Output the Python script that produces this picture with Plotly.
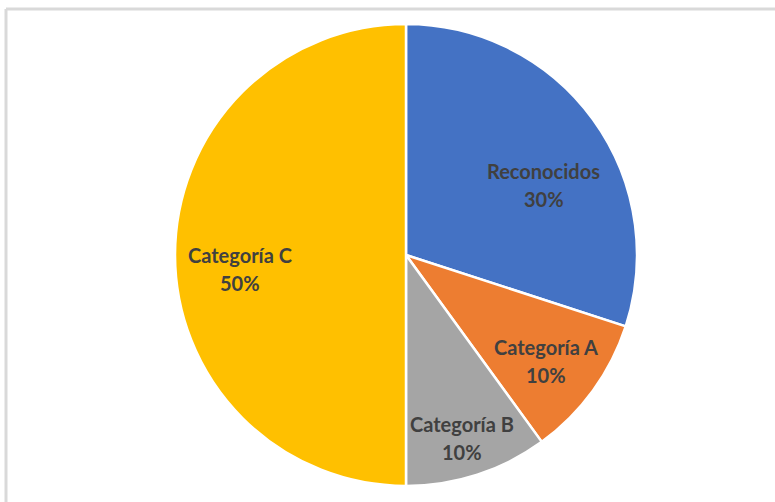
import math
import plotly.graph_objects as go

# ── Data ──────────────────────────────────────────────────────────────────────
labels = ["Reconocidos", "Categoría A", "Categoría B", "Categoría C"]
values = [30, 10, 10, 50]
colors = ["#4472C4", "#ED7D31", "#A5A5A5", "#FFC000"]

# ── Layout constants ──────────────────────────────────────────────────────────
W, H = 775, 502
CX, CY, R = 406, 255, 231           # pie centre / radius in px
LABEL_R = [0.67, 0.76, 0.83, 0.72]  # radial position of each data label (fraction of R)
LABEL_DA = [9, 1, 1, -5]            # angular nudge from the slice mid-angle, degrees
LINE_GAP = 14                       # half the distance between label lines, px
TEXT = dict(family="Lato, sans-serif", size=20, color="#404040", weight="bold")

fig = go.Figure(go.Pie(
    labels=labels, values=values,
    sort=False, direction="clockwise", rotation=0,
    marker=dict(colors=colors, line=dict(color="#FFFFFF", width=2.5)),
    textinfo="none",
    domain=dict(x=[(CX - R) / W, (CX + R) / W], y=[1 - (CY + R) / H, 1 - (CY - R) / H]),
    showlegend=False,
    hoverinfo="label+percent",
))

# data labels, Excel style: name over percentage, placed near each slice's mid-angle
total = sum(values)
start = 0.0
for lab, val, frac, da in zip(labels, values, LABEL_R, LABEL_DA):
    mid = math.radians((start + val / 2) / total * 360 + da)
    start += val
    px_ = CX + frac * R * math.sin(mid)
    py_ = CY - frac * R * math.cos(mid)
    for txt, shift in ((lab, LINE_GAP), (f"{val / total * 100:.0f}%", -LINE_GAP)):
        fig.add_annotation(
            x=px_ / W, y=1 - py_ / H, xref="paper", yref="paper",
            text=txt, showarrow=False, yshift=shift,
            xanchor="center", yanchor="middle", font=TEXT,
        )

# chart-area border (only top and left edges fall inside the crop)
border = dict(color="#D9D9D9", width=3)
fig.add_shape(type="line", xref="paper", yref="paper",
              x0=6 / W, x1=1.02, y0=1 - 9 / H, y1=1 - 9 / H, line=border)
fig.add_shape(type="line", xref="paper", yref="paper",
              x0=6 / W, x1=6 / W, y0=1 - 9 / H, y1=-0.02, line=border)

fig.update_layout(
    width=W, height=H,
    margin=dict(t=0, b=0, l=0, r=0),
    paper_bgcolor="#FFFFFF", plot_bgcolor="#FFFFFF",
)

fig.write_html("out.html", config={"displayModeBar": False},
               post_script="document.body.style.margin='0';")
